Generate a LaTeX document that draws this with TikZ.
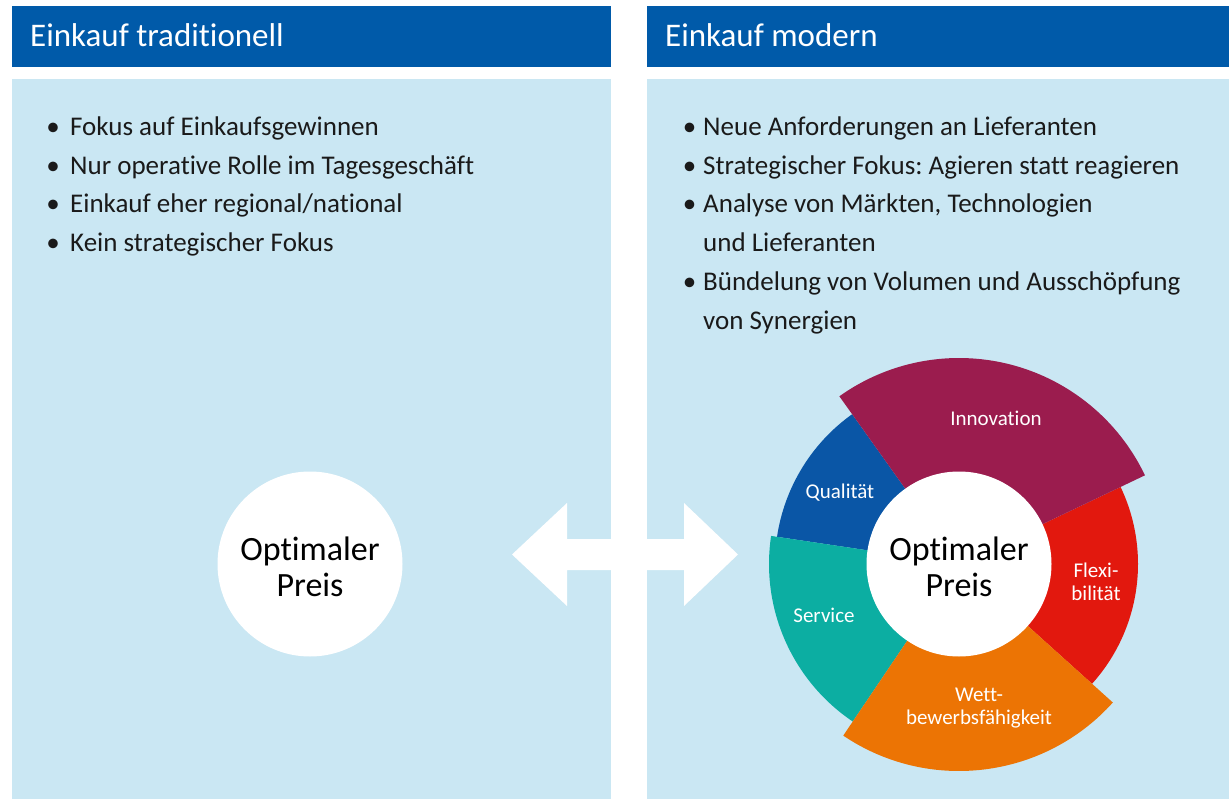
\documentclass[tikz,border=0pt]{standalone}
\usepackage{fontspec}
\setmainfont{Carlito}[RawFeature={-liga}]
\frenchspacing
\definecolor{headblue}{HTML}{005AA9}
\definecolor{panelblue}{HTML}{CAE7F3}
\definecolor{txt}{HTML}{1A1A1A}
\definecolor{innov}{HTML}{9B1C4E}
\definecolor{flexred}{HTML}{E2180E}
\definecolor{wettorange}{HTML}{EC7404}
\definecolor{servteal}{HTML}{0CAEA2}
\definecolor{qualblue}{HTML}{0A56A6}
\begin{document}
\begin{tikzpicture}[x=1pt,y=-1pt,
  headtext/.style={anchor=base west, inner sep=0pt, text=white, font=\fontsize{33}{33}\selectfont},
  itemtext/.style={anchor=base west, inner sep=0pt, text=txt, font=\fontsize{27}{27}\selectfont},
  dot/.style={anchor=base, inner sep=0pt, text=txt, font=\fontsize{27}{27}\selectfont},
  centertext/.style={align=center, inner sep=0pt, text=black, font=\fontsize{34}{36}\selectfont},
  seglabel/.style={align=center, inner sep=0pt, text=white, font=\fontsize{21}{23}\selectfont},
  disc/.style={circle, fill=white, inner sep=0pt, minimum size=185pt}]
\useasboundingbox (0,0) rectangle (1229,799);
\fill[white] (0,0) rectangle (1229,799);

% column headers and panels
\fill[headblue] (12,6) rectangle (611,67);
\fill[headblue] (647,6) rectangle (1229,67);
\fill[panelblue] (12,79) rectangle (611,799);
\fill[panelblue] (647,79) rectangle (1229,799);
\node[headtext] (hl) at (30,47) {Einkauf traditionell};
\node[headtext] (hr) at (665,47) {Einkauf modern};

% traditional purchasing
\node[dot] (dl1) at (53,136) {\textbullet};
\node[itemtext] (l1) at (70,136) {Fokus auf Einkaufsgewinnen};
\node[dot] (dl2) at (53,174.5) {\textbullet};
\node[itemtext] (l2) at (70,174.5) {Nur operative Rolle im Tagesgeschäft};
\node[dot] (dl3) at (53,213) {\textbullet};
\node[itemtext] (l3) at (70,213) {Einkauf eher regional/national};
\node[dot] (dl4) at (53,251.5) {\textbullet};
\node[itemtext] (l4) at (70,251.5) {Kein strategischer Fokus};

% modern purchasing
\node[dot] (dr1) at (689.5,136) {\textbullet};
\node[itemtext] (r1) at (703,136) {Neue Anforderungen an Lieferanten};
\node[dot] (dr2) at (689.5,174.5) {\textbullet};
\node[itemtext] (r2) at (703,174.5) {Strategischer Fokus: Agieren statt reagieren};
\node[dot] (dr3) at (689.5,213) {\textbullet};
\node[itemtext] (r3) at (703,213) {Analyse von Märkten, Technologien};
\node[itemtext] (r3b) at (703,252) {und Lieferanten};
\node[dot] (dr4) at (689.5,291) {\textbullet};
\node[itemtext] (r4) at (703,291) {Bündelung von Volumen und Ausschöpfung};
\node[itemtext] (r4b) at (703,330) {von Synergien};

% double arrow between the columns
\fill[white] (512,554.5) -- (567,503) -- (567,539) -- (684,539) -- (684,503)
  -- (738,554.5) -- (684,606) -- (684,570) -- (567,570) -- (567,606) -- cycle;

% left: price only
\node[disc] (pl) at (310,564) {};
\node[centertext] (tl) at (310,567) {Optimaler\\Preis};

% right: ring of success factors around the price
\coordinate (wc) at (959,564);
\fill[flexred] (wc) -- ++(-42:179pt) arc[start angle=-42, end angle=25.5, radius=179pt] -- cycle;
\fill[qualblue] (wc) -- ++(125.5:184pt) arc[start angle=125.5, end angle=171.5, radius=184pt] -- cycle;
\fill[servteal] (wc) -- ++(171.5:190pt) arc[start angle=171.5, end angle=236, radius=190pt] -- cycle;
\fill[innov] (wc) -- ++(25.5:206pt) arc[start angle=25.5, end angle=125.5, radius=206pt] -- cycle;
\fill[wettorange] (wc) -- ++(236:207pt) arc[start angle=236, end angle=318, radius=207pt] -- cycle;
\node[disc] (pr) at (wc) {};
\node[centertext] (tr) at (959,567) {Optimaler\\Preis};

\node[seglabel] (sInn) at (996,418) {Innovation};
\node[seglabel] (sQua) at (840,493) {Qualität};
\node[seglabel] (sSer) at (824,615) {Service};
\node[seglabel] (sFle) at (1096,582) {Flexi-\\bilität};
\node[seglabel] (sWet) at (979,708) {Wett-\\bewerbsfähigkeit};
\end{tikzpicture}
\end{document}
